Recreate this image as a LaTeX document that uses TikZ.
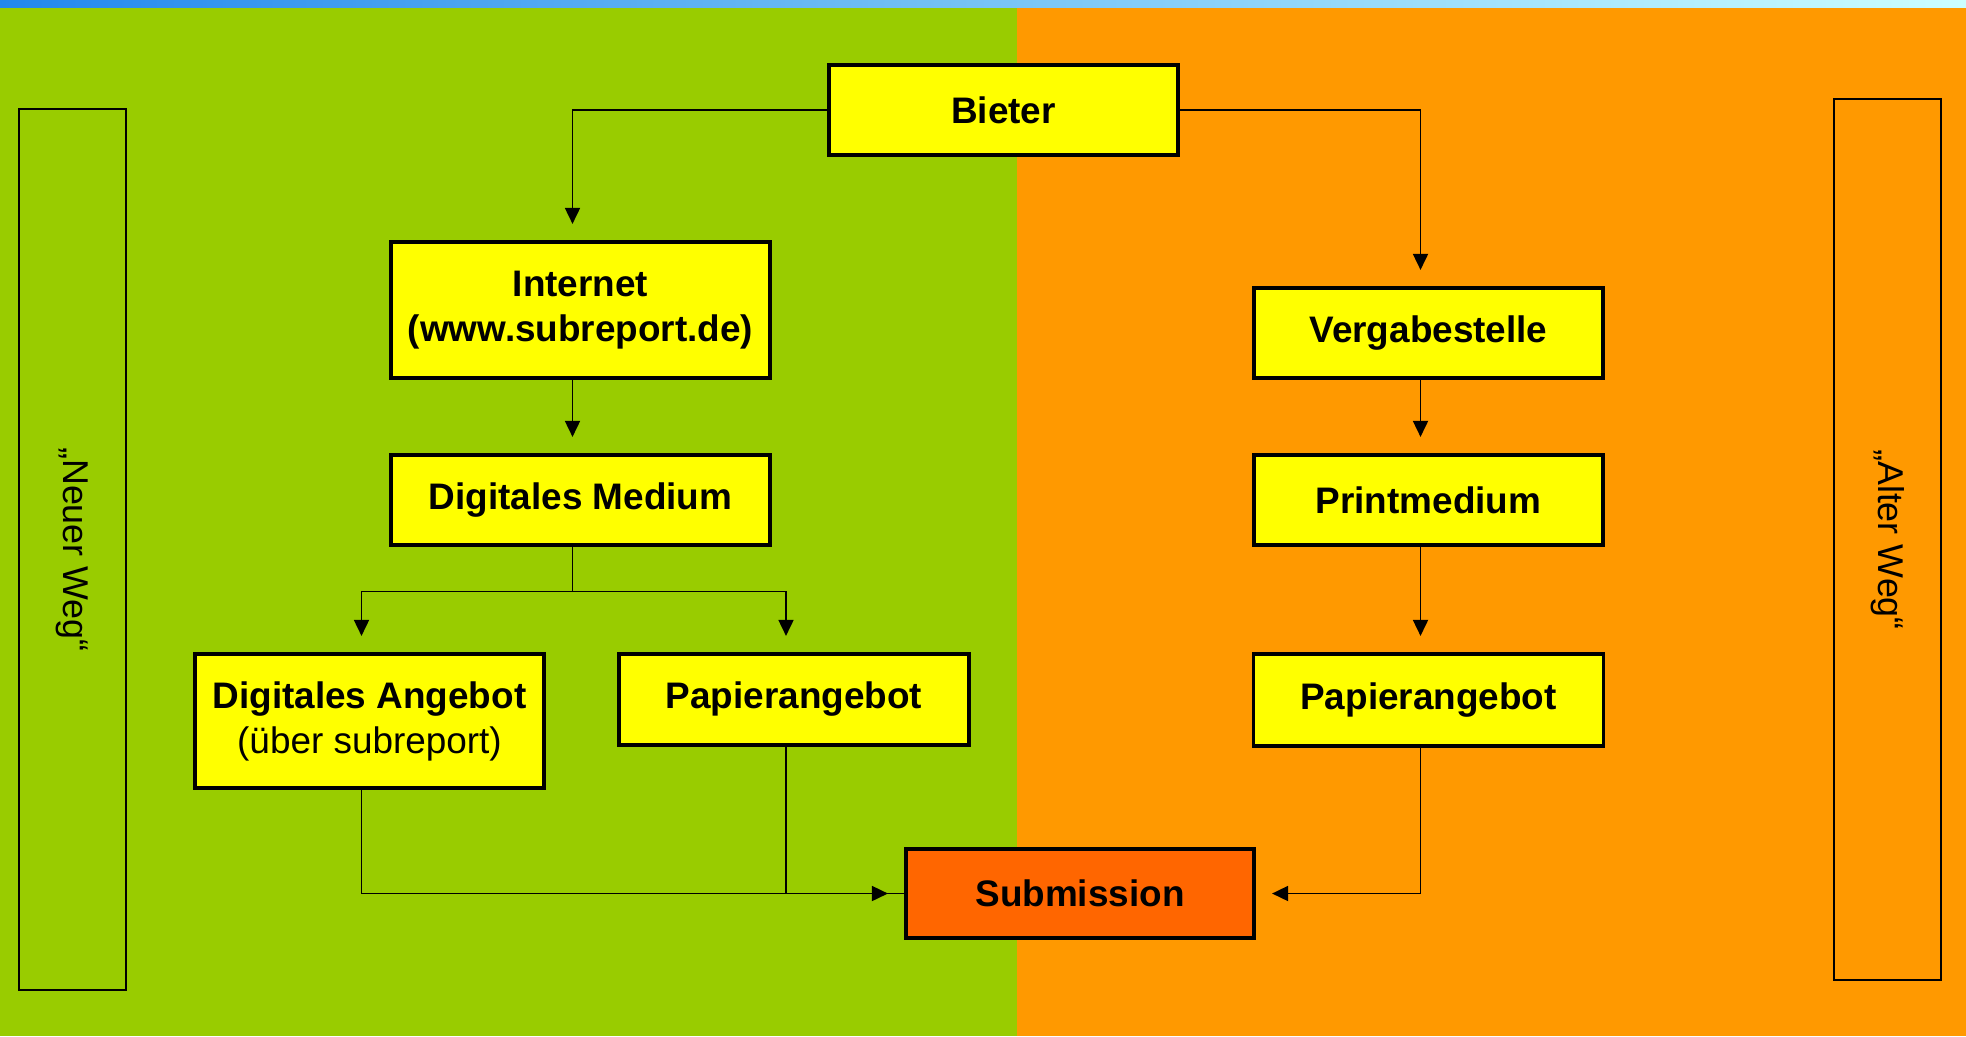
\documentclass[tikz,border=0pt]{standalone}
\usepackage{fontspec}
\setmainfont{Liberation Sans}
\usetikzlibrary{arrows.meta}
\definecolor{neugreen}{HTML}{99CC00}
\definecolor{altorange}{HTML}{FF9900}
\definecolor{boxyellow}{HTML}{FFFF00}
\definecolor{subred}{HTML}{FF6600}
\definecolor{topblue}{RGB}{34,136,238}
\definecolor{topcyan}{RGB}{204,255,255}
\begin{document}
\begin{tikzpicture}[
        box/.style={draw,line width=0.9pt,fill=boxyellow,align=center,inner sep=0pt,
            font=\fontsize{10.5}{12.8}\selectfont\bfseries,
            minimum width=3.49cm,minimum height=0.9cm},
        wayside/.style={draw,line width=0.6pt,rotate=-90,
            minimum width=8.81cm,minimum height=1.07cm,
            font=\fontsize{10.2}{12}\selectfont},
        link/.style={line width=0.5pt},
        arrow/.style={link,-{Triangle[length=0.16cm,width=0.15cm]},shorten >=0.165cm},
        ]
    % background: new way left, old way right
    \fill[neugreen] (0,0) rectangle (10.17,-10.36);
    \fill[altorange] (10.17,0) rectangle (19.66,-10.36);
    \shade[left color=topblue,right color=topcyan] (0,0) rectangle (19.66,-0.075);
    \useasboundingbox (0,0) rectangle (19.66,-10.36);

    \node (neu) [wayside] at (0.725,-5.495) {„Neuer Weg“};
    \node (alt) [wayside] at (18.875,-5.395) {„Alter Weg“};

    \node (bieter) [box] at (10.035,-1.10) {Bieter};
    % new way
    \node (internet) [box,minimum width=3.79cm,minimum height=1.36cm] at (5.805,-3.10)
        {Internet\\(www.subreport.de)};
    \node (dmedium) [box,minimum width=3.79cm] at (5.805,-5.00) {Digitales Medium};
    \node (dangebot) [box,minimum height=1.34cm] at (3.695,-7.21)
        {Digitales Angebot\\{\mdseries(über subreport)}};
    \node (papierl) [box,minimum width=3.50cm,minimum height=0.91cm] at (7.94,-6.995) {Papierangebot};
    % old way
    \node (vergabe) [box] at (14.285,-3.33) {Vergabestelle};
    \node (print) [box] at (14.285,-5.00) {Printmedium};
    \node (papierr) [box,minimum width=3.50cm,minimum height=0.92cm] at (14.285,-7.00) {Papierangebot};

    \node (submission) [box,fill=subred,minimum width=3.48cm,minimum height=0.89cm] at (10.80,-8.935)
        {Submission};

    % connectors run a little left of the box centres
    \draw[arrow] (bieter.west) -| ([xshift=-0.08cm]internet.north);
    \draw[arrow] (bieter.east) -| ([xshift=-0.08cm]vergabe.north);
    \draw[arrow] ([xshift=-0.08cm]internet.south) -- ([xshift=-0.08cm]dmedium.north);
    \draw[link] ([xshift=-0.08cm]dmedium.south) -- ++(0,-0.45) coordinate (fork);
    \draw[arrow] (fork) -| ([xshift=-0.08cm]dangebot.north);
    \draw[arrow] (fork) -| ([xshift=-0.08cm]papierl.north);
    \draw[arrow] ([xshift=-0.08cm]vergabe.south) -- ([xshift=-0.08cm]print.north);
    \draw[arrow] ([xshift=-0.08cm]print.south) -- ([xshift=-0.08cm]papierr.north);
    \draw[arrow] ([xshift=-0.08cm]dangebot.south) |- (submission.west);
    \draw[link] ([xshift=-0.08cm]papierl.south) |- (submission.west);
    \draw[arrow] ([xshift=-0.08cm]papierr.south) |- (submission.east);
\end{tikzpicture}
\end{document}
